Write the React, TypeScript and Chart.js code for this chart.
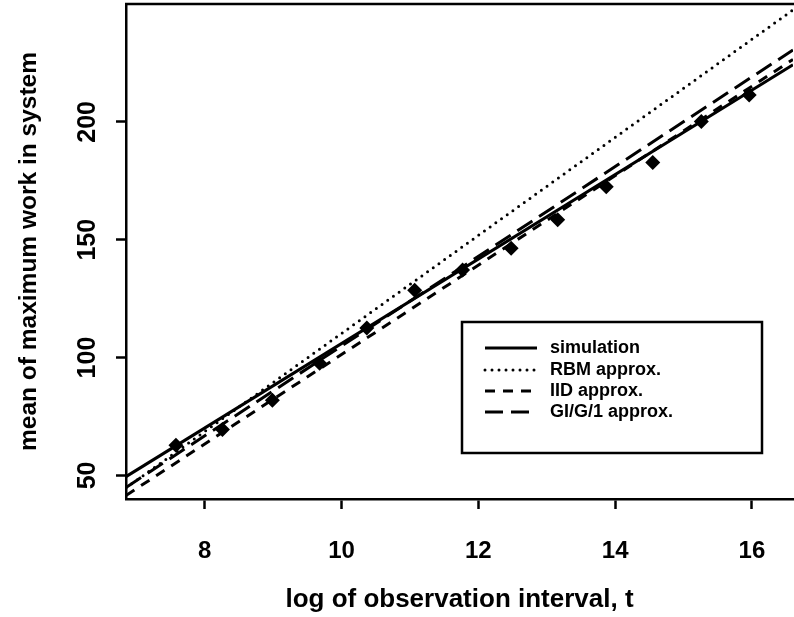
import React, { useEffect, useRef } from 'react';
import { Chart, registerables } from 'chart.js';

Chart.register(...registerables);

// ---- data ----
const xTicks = [8, 10, 12, 14, 16];
const yTicks = [50, 100, 150, 200];
const lineX = [6.85, 16.6];
const simulationY = [49.5, 224.2];
const rbmY = [44.7, 247.5];
const iidY = [41.5, 226.5];
const gig1Y = [44.9, 230.5];
const simPointsX = [7.58, 8.26, 8.99, 9.68, 10.37, 11.07, 11.77, 12.48, 13.16, 13.87, 14.55, 15.26, 15.96];
const simPointsY = [62.8, 69.5, 81.9, 97.6, 112.5, 128.6, 137.1, 146.4, 158.5, 172.5, 182.8, 200.2, 211.4];
const seriesLabels = ['simulation', 'RBM approx.', 'IID approx.', 'GI/G/1 approx.'];
const xTitle = 'log of observation interval, t';
const yTitle = 'mean of maximum work in system';

const FONT = '"Liberation Sans", Arial, Helvetica, sans-serif';

const toXY = (xs: number[], ys: number[]) => xs.map((x, i) => ({ x, y: ys[i] }));

const framePlugin = {
  id: 'frameTop',
  afterDraw(chart: any) {
    const { ctx, chartArea } = chart;
    ctx.save();
    ctx.strokeStyle = '#000';
    ctx.lineWidth = 2.5;
    ctx.beginPath();
    ctx.moveTo(chartArea.left - 1, chartArea.top);
    ctx.lineTo(chart.width, chartArea.top);
    ctx.stroke();
    ctx.restore();
  },
};

const boxLegendPlugin = {
  id: 'boxLegend',
  afterDatasetsDraw(chart: any) {
    const { ctx } = chart;
    const bx = 462, by = 322, bw = 300, bh = 131;
    ctx.save();
    ctx.fillStyle = '#fff';
    ctx.fillRect(bx, by, bw, bh);
    ctx.strokeStyle = '#000';
    ctx.lineWidth = 2.5;
    ctx.strokeRect(bx, by, bw, bh);
    const rows = [348, 370, 391, 412];
    ctx.font = `bold 18px ${FONT}`;
    ctx.textBaseline = 'middle';
    ctx.textAlign = 'left';
    chart.data.datasets.slice(0, 4).forEach((ds: any, i: number) => {
      const y = rows[i];
      ctx.beginPath();
      ctx.setLineDash(ds.borderDash || []);
      ctx.lineCap = ds.borderCapStyle || 'butt';
      ctx.lineWidth = ds.borderWidth;
      ctx.strokeStyle = '#000';
      ctx.moveTo(485, y);
      ctx.lineTo(537, y);
      ctx.stroke();
      ctx.setLineDash([]);
      ctx.fillStyle = '#000';
      ctx.fillText(ds.label, 550, y);
    });
    ctx.restore();
  },
};

export default function App() {
  const ref = useRef<HTMLCanvasElement | null>(null);
  useEffect(() => {
    document.body.style.margin = '0';
    if (!ref.current) return;
    Chart.defaults.font.family = FONT;
    const chart = new Chart(ref.current, {
      type: 'scatter',
      data: {
        datasets: [
          {
            label: seriesLabels[0],
            data: toXY(lineX, simulationY),
            showLine: true,
            borderColor: '#000',
            borderWidth: 3,
            borderDash: [],
            pointRadius: 0,
          },
          {
            label: seriesLabels[1],
            data: toXY(lineX, rbmY),
            showLine: true,
            borderColor: '#000',
            borderWidth: 3,
            borderDash: [0, 7],
            borderCapStyle: 'round',
            pointRadius: 0,
          },
          {
            label: seriesLabels[2],
            data: toXY(lineX, iidY),
            showLine: true,
            borderColor: '#000',
            borderWidth: 3,
            borderDash: [10, 8],
            pointRadius: 0,
          },
          {
            label: seriesLabels[3],
            data: toXY(lineX, gig1Y),
            showLine: true,
            borderColor: '#000',
            borderWidth: 3,
            borderDash: [18, 8],
            pointRadius: 0,
          },
          {
            label: 'simulation points',
            data: toXY(simPointsX, simPointsY),
            showLine: false,
            pointStyle: 'rectRot',
            pointRadius: 7.5,
            pointBackgroundColor: '#000',
            pointBorderColor: '#000',
            pointBorderWidth: 0,
          },
        ],
      },
      options: {
        animation: false,
        responsive: false,
        layout: { autoPadding: false, padding: { top: 4, right: 1, left: 0, bottom: 0 } },
        plugins: { legend: { display: false }, tooltip: { enabled: false } },
        scales: {
          x: {
            type: 'linear',
            min: 6.85,
            max: 16.6,
            afterBuildTicks: (s: any) => { s.ticks = xTicks.map((v) => ({ value: v })); },
            afterFit: (s: any) => { s.height = 118; s.paddingLeft = 0; s.paddingRight = 0; },
            grid: { drawOnChartArea: false, drawTicks: true, tickLength: 10, tickWidth: 2.5, tickColor: '#000' },
            border: { display: true, width: 2.5, color: '#000' },
            ticks: { color: '#000', padding: 28, font: { size: 24, weight: 'bold' }, maxRotation: 0, minRotation: 0 },
            title: { display: true, text: xTitle, color: '#000', font: { size: 26, weight: 'bold' }, padding: { top: 2, bottom: 2 } },
          },
          y: {
            type: 'linear',
            min: 40,
            max: 250,
            afterBuildTicks: (s: any) => { s.ticks = yTicks.map((v) => ({ value: v })); },
            afterFit: (s: any) => { s.width = 126; s.paddingTop = 0; s.paddingBottom = 0; },
            grid: { drawOnChartArea: false, drawTicks: true, tickLength: 10, tickWidth: 2.5, tickColor: '#000' },
            border: { display: true, width: 2.5, color: '#000' },
            ticks: { color: '#000', padding: 7, crossAlign: 'center', minRotation: 90, maxRotation: 90, font: { size: 25, weight: 'bold' } },
            title: { display: true, text: yTitle, color: '#000', font: { size: 24.5, weight: 'bold' }, padding: { top: 15, bottom: 15 } },
          },
        },
      },
      plugins: [framePlugin, boxLegendPlugin],
    } as any);
    return () => chart.destroy();
  }, []);
  return <canvas ref={ref} width={794} height={617} style={{ display: 'block' }} />;
}
